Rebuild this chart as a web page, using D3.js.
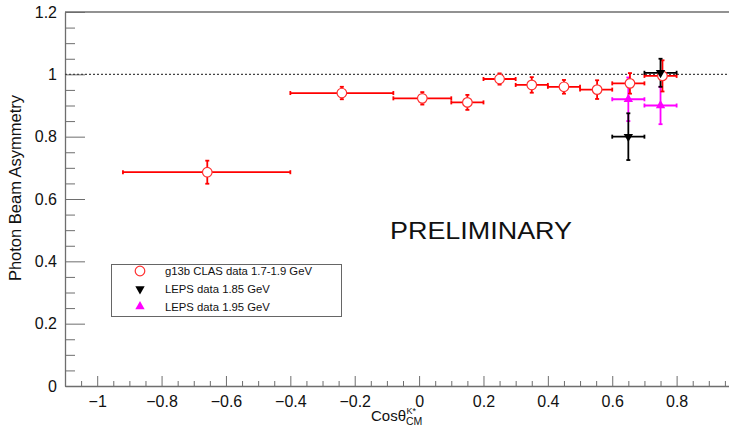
<!DOCTYPE html>
<html><head><meta charset="utf-8">
<script src="https://cdn.jsdelivr.net/npm/d3@7"></script>
<style>body{margin:0;background:#fff}svg{display:block}text{font-family:"Liberation Sans",Arial,Helvetica,sans-serif}</style>
</head><body><svg id="c" width="729" height="425"></svg>
<script>
// ---- data ----
const clasX    = [-0.658, -0.24, 0.01, 0.15, 0.25, 0.35, 0.45, 0.553, 0.655, 0.756];
const clasY    = [0.686, 0.940, 0.923, 0.910, 0.985, 0.966, 0.960, 0.951, 0.971, 0.995];
const clasXLo  = [-0.92, -0.40, -0.08, 0.10, 0.20, 0.30, 0.40, 0.50, 0.60, 0.70];
const clasXHi  = [-0.40, -0.08, 0.10, 0.20, 0.30, 0.40, 0.50, 0.60, 0.70, 0.80];
const clasYErr = [0.037, 0.02, 0.02, 0.024, 0.018, 0.025, 0.022, 0.03, 0.033, 0.05];

const leps185X = [0.65, 0.75];
const leps185Y = [0.80, 1.005];
const leps185XErr = [0.05, 0.05];
const leps185YErr = [0.075, 0.045];

const leps195X = [0.65, 0.75];
const leps195Y = [0.92, 0.90];
const leps195XErr = [0.05, 0.05];
const leps195YErr = [0.07, 0.06];

const xMajorTicks = [-1, -0.8, -0.6, -0.4, -0.2, 0, 0.2, 0.4, 0.6, 0.8];
const yMajorTicks = [0, 0.2, 0.4, 0.6, 0.8, 1, 1.2];
const legendLabels = ["g13b CLAS data 1.7-1.9 GeV", "LEPS data 1.85 GeV", "LEPS data 1.95 GeV"];

// ---- drawing ----
const svg = d3.select("#c");
const x = d3.scaleLinear().domain([-1.1, 1.0]).range([65, 741]);
const y = d3.scaleLinear().domain([0, 1.2]).range([386, 12]);
const axisCol = "#6e6e6e";

// minor ticks
const xMinor = d3.range(-1.1, 1.0001, 0.05).map(v => +v.toFixed(2)).filter(v => !xMajorTicks.some(t => Math.abs(t - v) < 1e-6));
const yMinor = d3.range(0, 1.2001, 0.05).map(v => +v.toFixed(2)).filter(v => !yMajorTicks.some(t => Math.abs(t - v) < 1e-6));

const gx = svg.append("g").attr("transform", "translate(0,386)")
  .call(d3.axisBottom(x).tickValues(xMajorTicks).tickSizeInner(-10).tickSizeOuter(0).tickPadding(9)
    .tickFormat(d => d === 0 ? "0" : d3.format("")(d)));
gx.select(".domain").attr("stroke", axisCol).attr("stroke-width", 1.3);
gx.selectAll(".tick line").attr("stroke", axisCol);
gx.selectAll(".tick text").attr("font-size", 16).attr("fill", "#111").attr("dy", "0.78em");
svg.append("g").attr("transform", "translate(0,386)")
  .call(d3.axisBottom(x).tickValues(xMinor).tickSizeInner(-5).tickSizeOuter(0).tickFormat(""))
  .call(g => { g.select(".domain").remove(); g.selectAll(".tick line").attr("stroke", axisCol); });

const gy = svg.append("g").attr("transform", "translate(65,0)")
  .call(d3.axisLeft(y).tickValues(yMajorTicks).tickSizeInner(-20).tickSizeOuter(0).tickPadding(8)
    .tickFormat(d => d3.format("")(d)));
gy.select(".domain").attr("stroke", axisCol).attr("stroke-width", 1.3);
gy.selectAll(".tick line").attr("stroke", axisCol);
gy.selectAll(".tick text").attr("font-size", 16).attr("fill", "#111");
svg.append("g").attr("transform", "translate(65,0)")
  .call(d3.axisLeft(y).tickValues(yMinor).tickSizeInner(-10).tickSizeOuter(0).tickFormat(""))
  .call(g => { g.select(".domain").remove(); g.selectAll(".tick line").attr("stroke", axisCol); });

// top frame
svg.append("line").attr("x1", 65).attr("x2", 741).attr("y1", 12).attr("y2", 12)
  .attr("stroke", axisCol).attr("stroke-width", 1.6);

// dotted line at 1
svg.append("line").attr("x1", x(-1.1)).attr("x2", x(1.0)).attr("y1", y(1)).attr("y2", y(1))
  .attr("stroke", "#444").attr("stroke-width", 1.1).attr("stroke-dasharray", "2,2");

// axis titles
svg.append("text").attr("transform", `translate(21,${(y(0)+y(1.2))/2 - 11}) rotate(-90)`)
  .attr("text-anchor", "middle").attr("font-size", 16.5).attr("fill", "#111").text("Photon Beam Asymmetry");
const xt = svg.append("text").attr("x", 371).attr("y", 421).attr("font-size", 15).attr("fill", "#111").text("Cosθ");
const w = xt.node().getComputedTextLength();
svg.append("text").attr("x", 371 + w + 0.5).attr("y", 413.5).attr("font-size", 9).attr("fill", "#111").text("K*");
svg.append("text").attr("x", 371 + w).attr("y", 424.5).attr("font-size", 10.5).attr("fill", "#111").text("CM");

// PRELIMINARY
svg.append("text").attr("x", 390).attr("y", 239).attr("font-size", 24.5).attr("fill", "#111")
  .attr("textLength", 182).attr("lengthAdjust", "spacingAndGlyphs").text("PRELIMINARY");

// error bar helper
function errBars(xs, ys, xlo, xhi, ylo, yhi, color, cls) {
  const g = svg.append("g").attr("class", cls).attr("stroke", color).attr("stroke-width", 1.8);
  xs.forEach((_, i) => {
    const cx = x(xs[i]), cy = y(ys[i]);
    g.append("line").attr("x1", x(xlo[i])).attr("x2", x(xhi[i])).attr("y1", cy).attr("y2", cy);
    g.append("line").attr("x1", cx).attr("x2", cx).attr("y1", y(ylo[i])).attr("y2", y(yhi[i]));
    g.append("line").attr("x1", x(xlo[i])).attr("x2", x(xlo[i])).attr("y1", cy - 2).attr("y2", cy + 2);
    g.append("line").attr("x1", x(xhi[i])).attr("x2", x(xhi[i])).attr("y1", cy - 2).attr("y2", cy + 2);
    g.append("line").attr("x1", cx - 2).attr("x2", cx + 2).attr("y1", y(ylo[i])).attr("y2", y(ylo[i]));
    g.append("line").attr("x1", cx - 2).attr("x2", cx + 2).attr("y1", y(yhi[i])).attr("y2", y(yhi[i]));
  });
}

// LEPS 1.95 (magenta)
errBars(leps195X, leps195Y,
  leps195X.map((v, i) => v - leps195XErr[i]), leps195X.map((v, i) => v + leps195XErr[i]),
  leps195Y.map((v, i) => v - leps195YErr[i]), leps195Y.map((v, i) => v + leps195YErr[i]), "#ff00ff", "l195");
// CLAS (red)
errBars(clasX, clasY, clasXLo, clasXHi,
  clasY.map((v, i) => v - clasYErr[i]), clasY.map((v, i) => v + clasYErr[i]), "#ff0000", "clas");
// LEPS 1.85 (black)
errBars(leps185X, leps185Y,
  leps185X.map((v, i) => v - leps185XErr[i]), leps185X.map((v, i) => v + leps185XErr[i]),
  leps185Y.map((v, i) => v - leps185YErr[i]), leps185Y.map((v, i) => v + leps185YErr[i]), "#000", "l185");

// markers
const tri = d3.symbol().type(d3.symbolTriangle).size(38);
svg.append("g").selectAll("path").data(leps195X).join("path")
  .attr("d", tri).attr("fill", "#ff00ff")
  .attr("transform", (d, i) => `translate(${x(d)},${y(leps195Y[i])})`);
svg.append("g").selectAll("circle").data(clasX).join("circle")
  .attr("cx", d => x(d)).attr("cy", (d, i) => y(clasY[i])).attr("r", 4.8)
  .attr("fill", "#fff").attr("stroke", "#ff3030").attr("stroke-width", 1.2);
svg.append("g").selectAll("path").data(leps185X).join("path")
  .attr("d", tri).attr("fill", "#000")
  .attr("transform", (d, i) => `translate(${x(d)},${y(leps185Y[i])}) rotate(180)`);

// legend
const lg = svg.append("g");
lg.append("rect").attr("x", 111.5).attr("y", 264.5).attr("width", 230).attr("height", 52)
  .attr("fill", "#fff").attr("stroke", "#666").attr("stroke-width", 1);
const rows = [271, 289, 306.5];
lg.append("circle").attr("cx", 140).attr("cy", rows[0]).attr("r", 4.8).attr("fill", "#fff").attr("stroke", "#ff3030").attr("stroke-width", 1.2);
lg.append("path").attr("d", tri).attr("fill", "#000").attr("transform", `translate(140,${rows[1]}) rotate(180)`);
lg.append("path").attr("d", tri).attr("fill", "#ff00ff").attr("transform", `translate(140,${rows[2]})`);
legendLabels.forEach((t, i) => {
  lg.append("text").attr("x", 165).attr("y", rows[i] + 4).attr("font-size", 11.3).attr("fill", "#111").text(t);
});
</script></body></html>
